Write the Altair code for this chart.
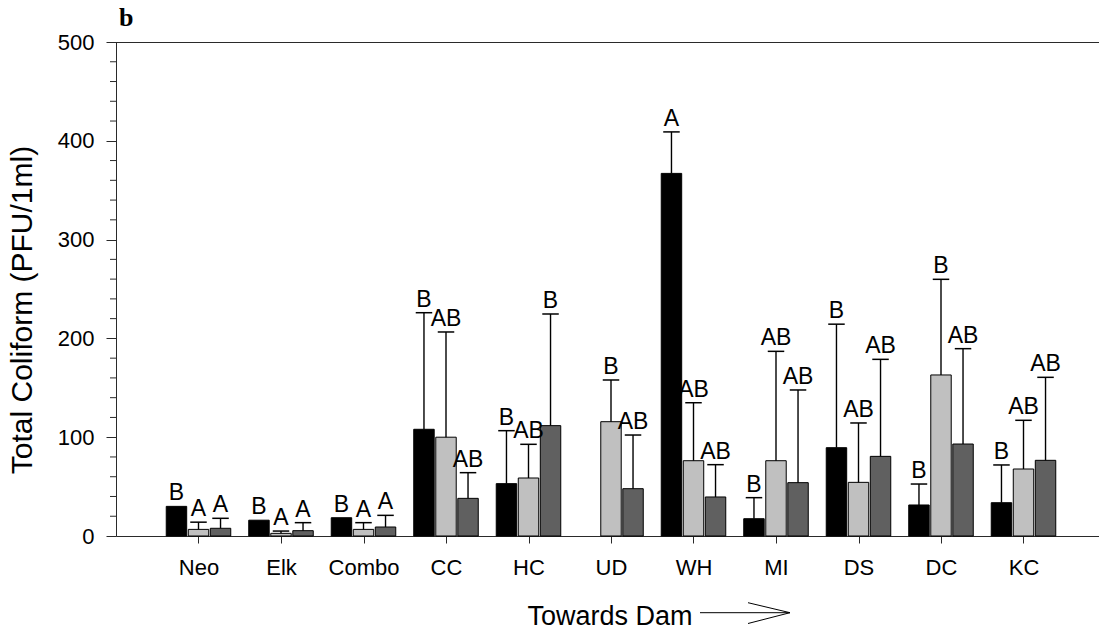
import json

import altair as alt
import pandas as pd

# Sampling sites, upstream to downstream
sites = ["Neo", "Elk", "Combo", "CC", "HC", "UD", "WH", "MI", "DS", "DC", "KC"]
series = ["S1", "S2", "S3"]
fills = ["#000000", "#c0c0c0", "#606060"]

# Mean counts (PFU/1ml) and the upper error amount for each series
mean_s1 = [30, 16, 18.5, 108, 53, None, 367, 17.5, 89.4, 31.4, 33.7]
err_s1 = [None, None, None, 118, 53.6, None, 42, 21.3, 125, 21.2, 38.2]
mean_s2 = [6.7, 2.7, 6.7, 100, 58.7, 115.7, 76.2, 76.2, 54.3, 163, 67.8]
err_s2 = [7.3, 2.3, 6.8, 106.5, 34.1, 42.2, 58.7, 110.7, 60.1, 96.8, 49.3]
mean_s3 = [7.8, 5.4, 9.1, 38.1, 111.7, 47.9, 39.5, 54, 80.6, 93.1, 76.6]
err_s3 = [10.1, 8.1, 11.8, 26, 113, 54.3, 32.7, 93.8, 98.2, 96.5, 84]

# Significance groupings
letters_s1 = ["B", "B", "B", "B", "B", "", "A", "B", "B", "B", "B"]
letters_s2 = ["A", "A", "A", "AB", "AB", "B", "AB", "AB", "AB", "B", "AB"]
letters_s3 = ["A", "A", "A", "AB", "B", "AB", "AB", "AB", "AB", "AB", "AB"]

y_major = [0, 100, 200, 300, 400, 500]
y_minor = [v for v in range(20, 500, 20) if v % 100 != 0]

rows = []
for s_idx, (name, means, errs, lets) in enumerate(
    [
        (series[0], mean_s1, err_s1, letters_s1),
        (series[1], mean_s2, err_s2, letters_s2),
        (series[2], mean_s3, err_s3, letters_s3),
    ]
):
    for i, site in enumerate(sites):
        rows.append(
            {
                "site": site,
                "site_idx": i + 1,
                "series": name,
                "series_idx": s_idx,
                "mean": means[i],
                "err": errs[i],
                "letter": lets[i],
            }
        )
df = pd.DataFrame(rows)

FONT = "Liberation Sans"
AXIS_COLOR = "#2a2a2a"
STEP = 82.5
PLOT_W = 983
PLOT_H = 494

xscale = alt.Scale(domain=[0, PLOT_W / STEP], nice=False, zero=False)
yscale = alt.Scale(domain=[0, 500], nice=False)

label_expr = "{}[datum.value - 1]".format(json.dumps(sites))
xaxis = alt.Axis(
    values=list(range(1, len(sites) + 1)),
    labelExpr=label_expr,
    title=None,
    grid=False,
    tickSize=7,
    tickColor=AXIS_COLOR,
    domainColor=AXIS_COLOR,
    labelFont=FONT,
    labelFontSize=22,
    labelColor="black",
    labelPadding=14,
)
yaxis = alt.Axis(
    values=y_major,
    title=None,
    grid=False,
    tickSize=10,
    tickColor=AXIS_COLOR,
    domainColor=AXIS_COLOR,
    labelFont=FONT,
    labelFontSize=22,
    labelColor="black",
    labelPadding=12,
)

base = alt.Chart(df).transform_calculate(
    pos="datum.site_idx + (datum.series_idx - 1) * 0.267",
    top="isValid(datum.err) ? datum.mean + datum.err : datum.mean",
)

bars = (
    base.transform_filter("isValid(datum.mean)")
    .transform_calculate(x0="datum.pos - 0.124", x1="datum.pos + 0.124")
    .mark_rect(stroke="black", strokeWidth=1)
    .encode(
        x=alt.X("x0:Q", scale=xscale, axis=xaxis),
        x2="x1:Q",
        y=alt.Y("mean:Q", scale=yscale, axis=yaxis),
        y2=alt.Y2(datum=0),
        color=alt.Color(
            "series:N", scale=alt.Scale(domain=series, range=fills), legend=None
        ),
    )
)

whiskers = (
    base.transform_filter("isValid(datum.err)")
    .mark_rule(color="black", strokeWidth=1.4)
    .encode(
        x=alt.X("pos:Q", scale=xscale, axis=xaxis),
        y=alt.Y("mean:Q", scale=yscale, axis=yaxis),
        y2="top:Q",
    )
)

caps = (
    base.transform_filter("isValid(datum.err)")
    .transform_calculate(c0="datum.pos - 0.1", c1="datum.pos + 0.1")
    .mark_rule(color="black", strokeWidth=1.5)
    .encode(
        x=alt.X("c0:Q", scale=xscale, axis=xaxis),
        x2="c1:Q",
        y=alt.Y("top:Q", scale=yscale, axis=yaxis),
    )
)

letters = (
    base.transform_filter("isValid(datum.mean) && datum.letter != ''")
    .mark_text(font=FONT, fontSize=23, baseline="alphabetic", dy=-6, color="black")
    .encode(
        x=alt.X("pos:Q", scale=xscale, axis=xaxis),
        y=alt.Y("top:Q", scale=yscale, axis=yaxis),
        text="letter:N",
    )
)

# Minor ticks on the value axis
minor = (
    alt.Chart(pd.DataFrame({"v": y_minor}))
    .mark_rule(color=AXIS_COLOR, strokeWidth=1)
    .encode(
        y=alt.Y("v:Q", scale=yscale, axis=yaxis),
        x=alt.value(-6),
        x2=alt.value(0),
    )
)

one = pd.DataFrame({"k": [0]})

# Top frame line
top_line = (
    alt.Chart(one)
    .mark_rule(color=AXIS_COLOR, strokeWidth=1)
    .encode(x=alt.value(0), x2=alt.value(PLOT_W), y=alt.value(0.5))
)

y_title = (
    alt.Chart(one)
    .mark_text(
        text="Total Coliform (PFU/1ml)",
        font=FONT,
        fontSize=30,
        angle=270,
        align="center",
        baseline="alphabetic",
        color="black",
    )
    .encode(x=alt.value(-84), y=alt.value(268))
)

x_title = (
    alt.Chart(one)
    .mark_text(
        text="Towards Dam",
        font=FONT,
        fontSize=27,
        align="center",
        baseline="alphabetic",
        color="black",
    )
    .encode(x=alt.value(494), y=alt.value(583))
)

# Arrow pointing downstream
arrow_shaft = (
    alt.Chart(one)
    .mark_rule(color="black", strokeWidth=1)
    .encode(x=alt.value(584), x2=alt.value(674), y=alt.value(570.7), y2=alt.value(570.7))
)
arrow_head_up = (
    alt.Chart(one)
    .mark_rule(color="black", strokeWidth=1)
    .encode(x=alt.value(632), x2=alt.value(674), y=alt.value(560.7), y2=alt.value(570.7))
)
arrow_head_down = (
    alt.Chart(one)
    .mark_rule(color="black", strokeWidth=1)
    .encode(x=alt.value(632), x2=alt.value(674), y=alt.value(581.5), y2=alt.value(570.7))
)

panel_tag = (
    alt.Chart(one)
    .mark_text(
        text="b",
        font="Liberation Serif",
        fontWeight="bold",
        fontSize=26,
        align="left",
        baseline="alphabetic",
        color="black",
    )
    .encode(x=alt.value(3), y=alt.value(-16))
)

chart = (
    alt.layer(
        bars,
        whiskers,
        caps,
        letters,
        minor,
        top_line,
        y_title,
        x_title,
        arrow_shaft,
        arrow_head_up,
        arrow_head_down,
        panel_tag,
    )
    .properties(
        width=PLOT_W,
        height=PLOT_H,
        autosize=alt.AutoSizeParams(type="none"),
        padding={"left": 116, "top": 42, "right": 0, "bottom": 96},
    )
    .configure_view(stroke=None)
    .configure(background="white")
)

chart.save("out.html", embed_options={"renderer": "svg", "actions": False})
